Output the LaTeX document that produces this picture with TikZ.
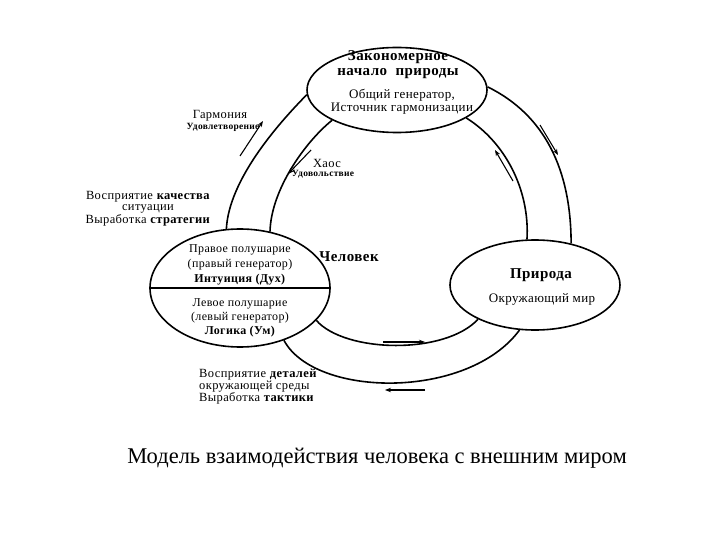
\documentclass[tikz,border=0pt]{standalone}
\usepackage{fontspec}
\setmainfont{Liberation Serif}[LetterSpace=3]
\newfontfamily\titlefont{Liberation Serif}
\usetikzlibrary{shapes.geometric,arrows.meta}
\begin{document}
\begin{tikzpicture}[x=1pt,y=-1pt,
  ring/.style={line width=1.6pt},
  ell/.style={draw, ellipse, line width=1.6pt, fill=white, inner sep=0pt},
  flow/.style={line width=1.1pt, -{Stealth[length=6pt,width=4.5pt]}},
  txt/.style={inner sep=0pt, align=center, font=\fontsize{12}{15}\selectfont},
  tiny/.style={inner sep=0pt, font=\fontsize{9.5}{10}\selectfont\bfseries}]
\fill[white] (0,0) rectangle (720,540);
\useasboundingbox (0,0) rectangle (720,540);
% ellipses
\node[ell, minimum width=180pt, minimum height=85pt] (T) at (397,90) {};
\node[ell, minimum width=180pt, minimum height=118pt] (L) at (240,288) {};
\node[ell, minimum width=170pt, minimum height=90pt] (R) at (535,285) {};
\draw[line width=1.6pt] (L.west) -- (L.east);
% ring arcs
\draw[ring] (T.183) .. controls (277,125) and (229,180) .. (L.103);
\draw[ring] (T.205) .. controls (305,142) and (271,190) .. (L.62);
\draw[ring] (T.2) .. controls (545,115) and (571,170) .. (R.49.5);
\draw[ring] (T.338) .. controls (505,142) and (530,190) .. (R.100);
\draw[ring] (L.-23) .. controls (345,353) and (445,355) .. (R.211.5);
\draw[ring] (L.-50) .. controls (315,398) and (468,400) .. (R.251);
% flow arrows
\coordinate (a1s) at (240,156); \coordinate (a1e) at (263,121);
\coordinate (a2s) at (311,150); \coordinate (a2e) at (288,174);
\coordinate (a3s) at (540,125); \coordinate (a3e) at (558,155);
\coordinate (a4s) at (513,181); \coordinate (a4e) at (495,150);
\coordinate (a5s) at (383,342); \coordinate (a5e) at (425,342);
\coordinate (a6s) at (425,390); \coordinate (a6e) at (385,390);
\draw[flow] (a1s) -- (a1e);
\draw[flow] (a2s) -- (a2e);
\draw[flow] (a3s) -- (a3e);
\draw[flow] (a4s) -- (a4e);
\draw[flow] (a5s) -- (a5e);
\draw[flow] (a6s) -- (a6e);
% texts
\node[txt, font=\fontsize{15}{15}\selectfont\bfseries] (t1) at (398,64.5) {Закономерное\\начало\ \ природы};
\node[txt, font=\fontsize{13}{13}\selectfont] (t2) at (402,101.5) {Общий генератор,\\Источник гармонизации};
\node[txt, font=\fontsize{12.5}{13}\selectfont] (harm) at (220,116) {Гармония};
\node[tiny] (udovl) at (223,127) {Удовлетворение};
\node[txt, font=\fontsize{12.5}{13}\selectfont] (chaos) at (327,163) {Хаос};
\node[tiny] (udovol) at (323,174) {Удовольствие};
\node[txt, font=\fontsize{12.5}{11.5}\selectfont] (lq) at (148,208.5) {Восприятие \textbf{качества}\\ситуации\\Выработка \textbf{стратегии}};
\node[txt] (rh) at (240,265) {Правое полушарие\\(правый генератор)\\\textbf{Интуиция (Дух)}};
\node[txt, font=\fontsize{12}{14}\selectfont] (lh) at (240,318) {Левое полушарие\\(левый генератор)\\\textbf{Логика (Ум)}};
\node[txt, font=\fontsize{15}{15}\selectfont\bfseries] (man) at (349,257) {Человек};
\node[txt, font=\fontsize{15}{15}\selectfont\bfseries] (nat) at (541,275) {Природа};
\node[txt, font=\fontsize{13}{13}\selectfont] (env) at (542,299) {Окружающий мир};
\node[txt, align=left, anchor=west, font=\fontsize{12.5}{10.5}\selectfont] (det) at (199,386.5) {Восприятие \textbf{деталей}\\окружающей среды\\Выработка \textbf{тактики}};
\node[inner sep=0pt, font=\titlefont\fontsize{22.5}{24}\selectfont] (title) at (377,458) {Модель взаимодействия человека с внешним миром};
\end{tikzpicture}
\end{document}
